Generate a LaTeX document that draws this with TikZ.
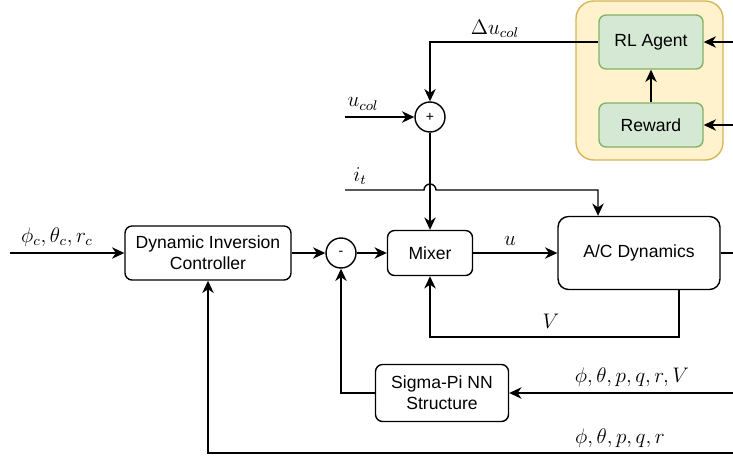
\documentclass[tikz,border=0pt]{standalone}
\usepackage{fontspec}
\setmainfont{Liberation Sans}
\usetikzlibrary{arrows.meta}
\definecolor{zonefill}{HTML}{FFF2CC}
\definecolor{zoneline}{HTML}{D6B656}
\definecolor{rlfill}{HTML}{D5E8D4}
\definecolor{rlline}{HTML}{82B366}
\begin{document}
\begin{tikzpicture}[
            x=0.02cm, y=-0.02cm,
            line width=0.8pt,
            >={Stealth[length=7pt, width=6.5pt, inset=2.2pt]},
            block/.style={draw, rounded corners=4pt, align=center, font=\fontsize{10}{12}\selectfont},
            rlbox/.style={block, fill=rlfill, draw=rlline},
            sumnode/.style={circle, draw, minimum size=0.6cm, inner sep=0pt, font=\footnotesize},
            sig/.style={font=\large}
            ]
            \useasboundingbox (0,0) rectangle (733,457);
            % RL part
            \node[draw=zoneline, fill=zonefill, rounded corners=10pt, minimum width=2.94cm, minimum height=3.18cm] (zone) at (649.5,80.5) {};
            \node[rlbox, minimum width=2.08cm, minimum height=1.08cm] (agent) at (651,42) {RL Agent};
            \node[rlbox, minimum width=2.08cm, minimum height=0.88cm] (reward) at (651,125) {Reward};
            % main loop
            \node[block, minimum width=3.32cm, minimum height=1.08cm] (dic) at (208,253) {Dynamic Inversion\\Controller};
            \node[sumnode] (minus) at (341,253) {-};
            \node[sumnode] (plus) at (430,117) {+};
            \node[block, minimum width=1.7cm, minimum height=0.9cm] (mixer) at (430,253) {Mixer};
            \node[block, rounded corners=6pt, minimum width=3.24cm, minimum height=1.46cm] (ac) at (639,253) {A/C Dynamics};
            \node[block, minimum width=2.66cm, minimum height=1.14cm] (nn) at (442,393) {Sigma-Pi NN\\Structure};
            % free ends
            \coordinate (ref) at (10,253);
            \coordinate (ucol) at (345,117);
            \coordinate (it) at (345,190);
            \coordinate (itdrop) at (598,190);
            \coordinate (vtap) at (679,337);
            \coordinate (agentin) at (733,42);
            \coordinate (rewardin) at (733,125);
            \coordinate (acout) at (733,253);
            \coordinate (nnin) at (733,393);
            \coordinate (statein) at (733,453);
            % connectors
            \draw[->] (ref) -- (dic);
            \draw[->] (dic) -- (minus);
            \draw[->] (minus) -- (mixer);
            \draw[->] (mixer) -- (ac);
            \draw (ac) -- (acout);
            \draw[->] (agent.west) -| (plus);
            \draw[->] (ucol) -- (plus);
            \draw[->] (plus) -- (mixer);
            \draw[->] (it) -- (424,190) arc[start angle=180, end angle=0, radius=0.12cm] -- (itdrop) -- (itdrop |- ac.north);
            \draw[->] (vtap |- ac.south) -- (vtap) -| (mixer);
            \draw[->] (nnin) -- (nn);
            \draw[->] (nn.west) -| (minus);
            \draw[->] (statein) -| (dic);
            \draw[->] (agentin) -- (agent);
            \draw[->] (rewardin) -- (reward);
            \draw[->] (reward) -- (agent);
            % signal labels
            \node[sig] (lref) at (57,237) {$\phi_c, \theta_c, r_c$};
            \node[sig] (ldu) at (495,29) {$\Delta u_{col}$};
            \node[sig] (lucol) at (363,104) {$u_{col}$};
            \node[sig] (lit) at (360,176) {$i_t$};
            \node[sig] (lu) at (510,241) {$u$};
            \node[sig] (lv) at (551,321) {$V$};
            \node[sig] (lnn) at (632,377) {$\phi, \theta, p, q, r, V$};
            \node[sig] (lstate) at (620,438) {$\phi, \theta, p, q, r$};
        \end{tikzpicture}
\end{document}
